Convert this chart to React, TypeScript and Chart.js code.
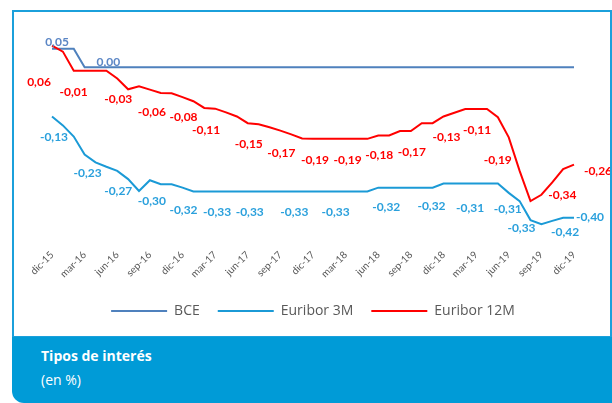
import React, { useEffect, useRef } from 'react';
import { Chart, registerables } from 'chart.js';

Chart.register(...registerables);

// ---------- DATA ----------
const months = [
  'dic-15',
  'ene-16', 'feb-16', 'mar-16', 'abr-16', 'may-16', 'jun-16', 'jul-16', 'ago-16', 'sep-16', 'oct-16', 'nov-16', 'dic-16',
  'ene-17', 'feb-17', 'mar-17', 'abr-17', 'may-17', 'jun-17', 'jul-17', 'ago-17', 'sep-17', 'oct-17', 'nov-17', 'dic-17',
  'ene-18', 'feb-18', 'mar-18', 'abr-18', 'may-18', 'jun-18', 'jul-18', 'ago-18', 'sep-18', 'oct-18', 'nov-18', 'dic-18',
  'ene-19', 'feb-19', 'mar-19', 'abr-19', 'may-19', 'jun-19', 'jul-19', 'ago-19', 'sep-19', 'oct-19', 'nov-19', 'dic-19',
];

const bce = [
  0.05, 0.05, 0.05, 0, 0, 0, 0, 0, 0, 0, 0, 0, 0,
  0, 0, 0, 0, 0, 0, 0, 0, 0, 0, 0, 0,
  0, 0, 0, 0, 0, 0, 0, 0, 0, 0, 0, 0,
  0, 0, 0, 0, 0, 0, 0, 0, 0, 0, 0, 0,
];

const euribor3M = [
  -0.132,
  -0.156, -0.186, -0.234, -0.255, -0.267, -0.278, -0.300, -0.332, -0.303, -0.314, -0.314, -0.323,
  -0.333, -0.333, -0.333, -0.333, -0.333, -0.333, -0.333, -0.333, -0.333, -0.333, -0.333, -0.333,
  -0.333, -0.333, -0.333, -0.333, -0.333, -0.323, -0.323, -0.323, -0.323, -0.323, -0.323, -0.312,
  -0.312, -0.312, -0.312, -0.312, -0.312, -0.337, -0.359, -0.410, -0.421, -0.412, -0.404, -0.404,
];

const euribor12M = [
  0.058,
  0.042, -0.009, -0.009, -0.009, -0.009, -0.030, -0.059, -0.051, -0.060, -0.069, -0.070, -0.080,
  -0.091, -0.109, -0.111, -0.121, -0.132, -0.150, -0.153, -0.161, -0.170, -0.180, -0.191, -0.192,
  -0.192, -0.192, -0.192, -0.192, -0.192, -0.183, -0.183, -0.171, -0.171, -0.150, -0.150, -0.132,
  -0.122, -0.112, -0.112, -0.112, -0.134, -0.188, -0.278, -0.359, -0.342, -0.309, -0.273, -0.261,
];

// data labels (text and the month index they belong to)
const bceLabelIdx = [0, 5];
const bceLabelText = ['0,05', '0,00'];

const e3LabelIdx = [0, 3, 6, 9, 12, 15, 18, 21, 27, 30, 36, 39, 42, 44, 47, 48];
const e3LabelText = ['-0,13', '-0,23', '-0,27', '-0,30', '-0,32', '-0,33', '-0,33', '-0,33', '-0,33', '-0,32', '-0,32', '-0,31', '-0,31', '-0,33', '-0,42', '-0,40'];

const e12LabelIdx = [0, 3, 6, 9, 12, 15, 18, 21, 24, 27, 30, 33, 36, 39, 42, 45, 48];
const e12LabelText = ['0,06', '-0,01', '-0,03', '-0,06', '-0,08', '-0,11', '-0,15', '-0,17', '-0,19', '-0,19', '-0,18', '-0,17', '-0,13', '-0,11', '-0,19', '-0,34', '-0,26'];

// ---------- STYLE ----------
const C_BCE = '#4f81bd';
const C_3M = '#1b9ad6';
const C_12M = '#ff0000';
const L_BCE = '#5b86c5';
const L_3M = '#2aa0dc';

// label nudges relative to their point (pixels)
const bceNudge = [[5, -7], [2, -5]];
const e3Nudge = [[2, 21], [3, 19], [1, 20], [2, 21], [1, 22], [2, 21], [2, 21], [14, 21], [-10, 21], [8, 19], [-12, 23], [-6, 25], [-1, 16], [-9, 8], [2, 14], [16, -1]];
const e12Nudge = [[-13, 36], [-11, 21], [1, 21], [2, 22], [1, 20], [-9, 21], [1, 21], [1, 22], [2, 21], [2, 21], [1, 20], [1, 21], [3, 21], [1, 21], [-11, 23], [21, 0], [24, 7]];

const labelPlugin = {
  id: 'valueLabels',
  afterDatasetsDraw(chart: any) {
    const ctx = chart.ctx;
    const groups = [
      { ds: 0, idx: bceLabelIdx, text: bceLabelText, nudge: bceNudge, color: L_BCE },
      { ds: 1, idx: e3LabelIdx, text: e3LabelText, nudge: e3Nudge, color: L_3M },
      { ds: 2, idx: e12LabelIdx, text: e12LabelText, nudge: e12Nudge, color: C_12M },
    ];
    ctx.save();
    ctx.font = 'bold 12px Lato, "Open Sans", sans-serif';
    ctx.textAlign = 'center';
    ctx.textBaseline = 'middle';
    groups.forEach((g) => {
      const meta = chart.getDatasetMeta(g.ds);
      g.idx.forEach((i, k) => {
        const p = meta.data[i];
        if (!p) return;
        ctx.fillStyle = g.color;
        ctx.fillText(g.text[k], p.x + g.nudge[k][0], p.y + g.nudge[k][1]);
      });
    });
    ctx.restore();
  },
};

export default function App() {
  const ref = useRef<HTMLCanvasElement>(null);

  useEffect(() => {
    if (!ref.current) return;
    const chart = new Chart(ref.current, {
      type: 'line',
      data: {
        labels: months,
        datasets: [
          { label: 'BCE', data: bce, borderColor: C_BCE, backgroundColor: C_BCE, borderWidth: 2, pointRadius: 0, tension: 0, order: 3 },
          { label: 'Euribor 3M', data: euribor3M, borderColor: C_3M, backgroundColor: C_3M, borderWidth: 2, pointRadius: 0, tension: 0, order: 2 },
          { label: 'Euribor 12M', data: euribor12M, borderColor: C_12M, backgroundColor: C_12M, borderWidth: 2, pointRadius: 0, tension: 0, order: 1 },
        ],
      },
      options: {
        animation: false,
        responsive: false,
        devicePixelRatio: 1,
        layout: { padding: { left: 38, right: 36, top: 18, bottom: 15 } },
        scales: {
          x: {
            grid: { display: false },
            border: { display: false },
            ticks: {
              autoSkip: false,
              minRotation: 45,
              maxRotation: 45,
              padding: 6,
              color: '#595959',
              font: { family: 'Lato, "Open Sans", sans-serif', size: 10 },
              callback: (_v: any, i: number) => (i % 3 === 0 ? months[i] : null),
            },
            afterFit: (scale: any) => {
              scale.height = 51;
            },
          },
          y: { display: false, min: -0.45, max: 0.1 },
        },
        plugins: {
          legend: {
            position: 'bottom',
            labels: {
              boxWidth: 56,
              boxHeight: 2,
              padding: 18,
              color: '#595959',
              font: { family: '"Open Sans", sans-serif', size: 14 },
              sort: (a: any, b: any) => a.datasetIndex - b.datasetIndex,
              generateLabels: (ch: any) => {
                const items = Chart.defaults.plugins.legend.labels.generateLabels(ch);
                return items.map((it: any) => ({ ...it, lineWidth: 0 }));
              },
            },
          },
          tooltip: { enabled: false },
        },
      },
      plugins: [labelPlugin],
    });
    return () => chart.destroy();
  }, []);

  return (
    <div style={{ position: 'absolute', left: 0, top: 0, width: 612, height: 403, background: '#fff', overflow: 'hidden' }}>
      <div
        style={{
          position: 'absolute', left: 12, top: 10, width: 600, height: 328,
          border: '2px solid #1ba0db', boxSizing: 'border-box', background: '#fff',
        }}
      />
      <div
        style={{
          position: 'absolute', left: 12, top: 337, width: 600, height: 66,
          background: '#009bd7', borderBottomLeftRadius: 12,
          fontFamily: '"Open Sans", sans-serif', color: '#fff', fontSize: 14,
        }}
      >
        <div style={{ position: 'absolute', left: 29, top: 9, fontWeight: 700, lineHeight: '20px' }}>Tipos de interés</div>
        <div style={{ position: 'absolute', left: 29, top: 33, lineHeight: '20px' }}>(en %)</div>
      </div>
      <canvas
        ref={ref}
        width={596}
        height={331}
        style={{ position: 'absolute', left: 14, top: 12, width: 596, height: 331 }}
      />
    </div>
  );
}
